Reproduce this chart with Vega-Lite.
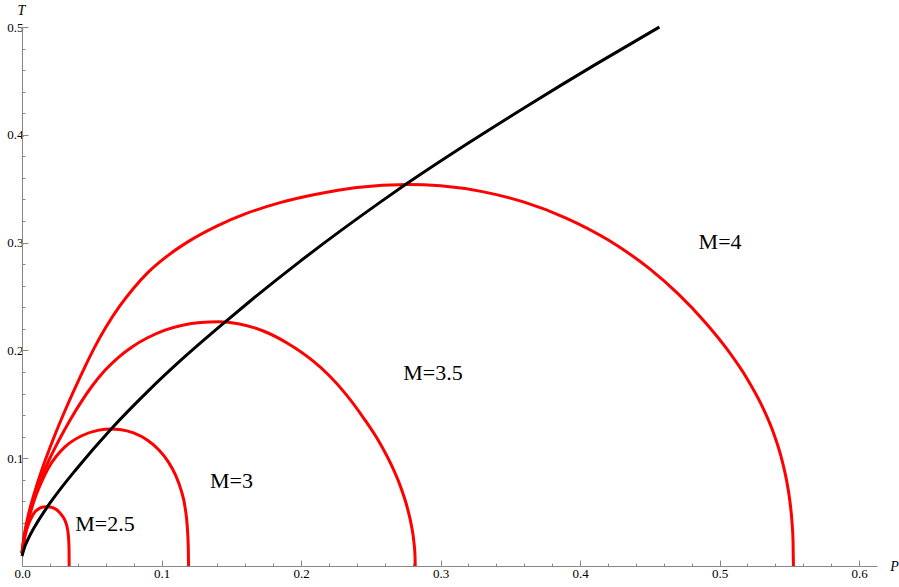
{
  "$schema": "https://vega.github.io/schema/vega-lite/v6.json",
  "width": 855,
  "height": 539,
  "autosize": {"type": "none"},
  "padding": {"left": 22, "top": 27, "right": 22, "bottom": 21},
  "background": "white",
  "config": {"view": {"stroke": null}},
  "datasets": {
    "red": [
      {"curve": "M=2.5", "P": 0, "T": 0.012},
      {"curve": "M=2.5", "P": 0.0015, "T": 0.0235},
      {"curve": "M=2.5", "P": 0.0033, "T": 0.0335},
      {"curve": "M=2.5", "P": 0.005, "T": 0.04},
      {"curve": "M=2.5", "P": 0.007, "T": 0.0455},
      {"curve": "M=2.5", "P": 0.0095, "T": 0.0505},
      {"curve": "M=2.5", "P": 0.0125, "T": 0.0535},
      {"curve": "M=2.5", "P": 0.0152, "T": 0.0547},
      {"curve": "M=2.5", "P": 0.018, "T": 0.055},
      {"curve": "M=2.5", "P": 0.021, "T": 0.0545},
      {"curve": "M=2.5", "P": 0.0249, "T": 0.0522},
      {"curve": "M=2.5", "P": 0.0275, "T": 0.0488},
      {"curve": "M=2.5", "P": 0.0296, "T": 0.0452},
      {"curve": "M=2.5", "P": 0.0312, "T": 0.041},
      {"curve": "M=2.5", "P": 0.0325, "T": 0.035},
      {"curve": "M=2.5", "P": 0.0333, "T": 0.027},
      {"curve": "M=2.5", "P": 0.0337, "T": 0.017},
      {"curve": "M=2.5", "P": 0.0338, "T": 0},
      {"curve": "M=3", "P": 0, "T": 0.012},
      {"curve": "M=3", "P": 0.0015, "T": 0.025},
      {"curve": "M=3", "P": 0.0045, "T": 0.042},
      {"curve": "M=3", "P": 0.0093, "T": 0.063},
      {"curve": "M=3", "P": 0.014, "T": 0.078},
      {"curve": "M=3", "P": 0.0189, "T": 0.091},
      {"curve": "M=3", "P": 0.025, "T": 0.1025},
      {"curve": "M=3", "P": 0.0308, "T": 0.1105},
      {"curve": "M=3", "P": 0.0428, "T": 0.1208},
      {"curve": "M=3", "P": 0.0543, "T": 0.1258},
      {"curve": "M=3", "P": 0.0643, "T": 0.1271},
      {"curve": "M=3", "P": 0.07, "T": 0.1266},
      {"curve": "M=3", "P": 0.08, "T": 0.1234},
      {"curve": "M=3", "P": 0.09, "T": 0.1166},
      {"curve": "M=3", "P": 0.098, "T": 0.1078},
      {"curve": "M=3", "P": 0.105, "T": 0.0964},
      {"curve": "M=3", "P": 0.11, "T": 0.0846},
      {"curve": "M=3", "P": 0.114, "T": 0.0706},
      {"curve": "M=3", "P": 0.117, "T": 0.0537},
      {"curve": "M=3", "P": 0.1185, "T": 0.036},
      {"curve": "M=3", "P": 0.1192, "T": 0.017},
      {"curve": "M=3", "P": 0.1194, "T": 0},
      {"curve": "M=3.5", "P": 0, "T": 0.012},
      {"curve": "M=3.5", "P": 0.0015, "T": 0.026},
      {"curve": "M=3.5", "P": 0.0045, "T": 0.0445},
      {"curve": "M=3.5", "P": 0.0093, "T": 0.066},
      {"curve": "M=3.5", "P": 0.0141, "T": 0.0825},
      {"curve": "M=3.5", "P": 0.02, "T": 0.1},
      {"curve": "M=3.5", "P": 0.026, "T": 0.1155},
      {"curve": "M=3.5", "P": 0.0345, "T": 0.1355},
      {"curve": "M=3.5", "P": 0.0428, "T": 0.153},
      {"curve": "M=3.5", "P": 0.05, "T": 0.1665},
      {"curve": "M=3.5", "P": 0.0595, "T": 0.1815},
      {"curve": "M=3.5", "P": 0.07, "T": 0.1945},
      {"curve": "M=3.5", "P": 0.0786, "T": 0.203},
      {"curve": "M=3.5", "P": 0.09, "T": 0.2117},
      {"curve": "M=3.5", "P": 0.1025, "T": 0.2188},
      {"curve": "M=3.5", "P": 0.115, "T": 0.2234},
      {"curve": "M=3.5", "P": 0.128, "T": 0.2259},
      {"curve": "M=3.5", "P": 0.141, "T": 0.2266},
      {"curve": "M=3.5", "P": 0.155, "T": 0.2248},
      {"curve": "M=3.5", "P": 0.173, "T": 0.218},
      {"curve": "M=3.5", "P": 0.19, "T": 0.2069},
      {"curve": "M=3.5", "P": 0.2088, "T": 0.19},
      {"curve": "M=3.5", "P": 0.22, "T": 0.1769},
      {"curve": "M=3.5", "P": 0.2327, "T": 0.1585},
      {"curve": "M=3.5", "P": 0.245, "T": 0.137},
      {"curve": "M=3.5", "P": 0.2566, "T": 0.1139},
      {"curve": "M=3.5", "P": 0.265, "T": 0.0931},
      {"curve": "M=3.5", "P": 0.271, "T": 0.0748},
      {"curve": "M=3.5", "P": 0.2765, "T": 0.0526},
      {"curve": "M=3.5", "P": 0.2793, "T": 0.0365},
      {"curve": "M=3.5", "P": 0.281, "T": 0.0215},
      {"curve": "M=3.5", "P": 0.2817, "T": 0.0101},
      {"curve": "M=3.5", "P": 0.2819, "T": 0},
      {"curve": "M=4", "P": 0, "T": 0.012},
      {"curve": "M=4", "P": 0.0015, "T": 0.0275},
      {"curve": "M=4", "P": 0.0045, "T": 0.047},
      {"curve": "M=4", "P": 0.0093, "T": 0.0695},
      {"curve": "M=4", "P": 0.015, "T": 0.092},
      {"curve": "M=4", "P": 0.0225, "T": 0.118},
      {"curve": "M=4", "P": 0.0308, "T": 0.144},
      {"curve": "M=4", "P": 0.038, "T": 0.165},
      {"curve": "M=4", "P": 0.0452, "T": 0.185},
      {"curve": "M=4", "P": 0.0525, "T": 0.204},
      {"curve": "M=4", "P": 0.06, "T": 0.2212},
      {"curve": "M=4", "P": 0.07, "T": 0.241},
      {"curve": "M=4", "P": 0.08, "T": 0.2577},
      {"curve": "M=4", "P": 0.09, "T": 0.2719},
      {"curve": "M=4", "P": 0.105, "T": 0.2884},
      {"curve": "M=4", "P": 0.12, "T": 0.3016},
      {"curve": "M=4", "P": 0.14, "T": 0.3156},
      {"curve": "M=4", "P": 0.16, "T": 0.3266},
      {"curve": "M=4", "P": 0.185, "T": 0.3371},
      {"curve": "M=4", "P": 0.21, "T": 0.3446},
      {"curve": "M=4", "P": 0.24, "T": 0.3512},
      {"curve": "M=4", "P": 0.2765, "T": 0.354},
      {"curve": "M=4", "P": 0.3, "T": 0.3527},
      {"curve": "M=4", "P": 0.33, "T": 0.3473},
      {"curve": "M=4", "P": 0.36, "T": 0.3375},
      {"curve": "M=4", "P": 0.39, "T": 0.3228},
      {"curve": "M=4", "P": 0.42, "T": 0.3026},
      {"curve": "M=4", "P": 0.45, "T": 0.2756},
      {"curve": "M=4", "P": 0.47, "T": 0.2529},
      {"curve": "M=4", "P": 0.49, "T": 0.2257},
      {"curve": "M=4", "P": 0.505, "T": 0.2018},
      {"curve": "M=4", "P": 0.52, "T": 0.1733},
      {"curve": "M=4", "P": 0.53, "T": 0.1497},
      {"curve": "M=4", "P": 0.538, "T": 0.1259},
      {"curve": "M=4", "P": 0.544, "T": 0.1021},
      {"curve": "M=4", "P": 0.548, "T": 0.0799},
      {"curve": "M=4", "P": 0.5505, "T": 0.0596},
      {"curve": "M=4", "P": 0.552, "T": 0.0401},
      {"curve": "M=4", "P": 0.5527, "T": 0.0237},
      {"curve": "M=4", "P": 0.553, "T": 0}
    ],
    "black": [
      {"P": 0, "T": 0.0093},
      {"P": 0.0022, "T": 0.0187},
      {"P": 0.005, "T": 0.0266},
      {"P": 0.0093, "T": 0.0369},
      {"P": 0.0177, "T": 0.054},
      {"P": 0.028, "T": 0.0722},
      {"P": 0.038, "T": 0.0884},
      {"P": 0.0631, "T": 0.126},
      {"P": 0.09, "T": 0.1618},
      {"P": 0.1133, "T": 0.1902},
      {"P": 0.1455, "T": 0.2263},
      {"P": 0.1634, "T": 0.2456},
      {"P": 0.1993, "T": 0.2826},
      {"P": 0.2566, "T": 0.3373},
      {"P": 0.2746, "T": 0.3536},
      {"P": 0.32, "T": 0.3924},
      {"P": 0.3642, "T": 0.4284},
      {"P": 0.41, "T": 0.4644},
      {"P": 0.4569, "T": 0.5}
    ],
    "labels": [
      {"label": "M=2.5", "P": 0.0595, "T": 0.0385},
      {"label": "M=3", "P": 0.1502, "T": 0.0793},
      {"label": "M=3.5", "P": 0.2946, "T": 0.179},
      {"label": "M=4", "P": 0.5004, "T": 0.3001}
    ]
  },
  "encoding": {
    "x": {
      "field": "P", "type": "quantitative",
      "scale": {"domain": [0, 0.6129], "nice": false, "zero": false},
      "axis": {
        "values": [0,0.02,0.04,0.06,0.08,0.1,0.12,0.14,0.16,0.18,0.2,0.22,0.24,0.26,0.28,0.3,0.32,0.34,0.36,0.38,0.4,0.42,0.44,0.46,0.48,0.5,0.52,0.54,0.56,0.58,0.6],
        "labelExpr": "abs(datum.value*10 - round(datum.value*10)) < 0.001 ? format(datum.value, '.1f') : ''",
        "tickSize": {"condition": {"test": "abs(datum.value*10 - round(datum.value*10)) < 0.001", "value": -6}, "value": -3},
        "grid": false,
        "domainColor": "#888888",
        "domainWidth": 1,
        "tickColor": "#888888",
        "tickWidth": 1,
        "labelFont": "Liberation Serif",
        "labelFontSize": 13,
        "labelColor": "#000000",
        "labelOverlap": false,
        "labelBound": false,
        "labelFlush": false,
        "labelPadding": 7,
        "title": "P",
        "titleFont": "Liberation Serif",
        "titleFontStyle": "italic",
        "titleFontWeight": "normal",
        "titleFontSize": 14,
        "titleColor": "#000000",
        "titleX": 872,
        "titleY": 0,
        "titleAlign": "center",
        "titleBaseline": "middle",
        "titleAngle": 0
      }
    },
    "y": {
      "field": "T", "type": "quantitative",
      "scale": {"domain": [0, 0.5], "nice": false, "zero": false},
      "axis": {
        "values": [0.02,0.04,0.06,0.08,0.1,0.12,0.14,0.16,0.18,0.2,0.22,0.24,0.26,0.28,0.3,0.32,0.34,0.36,0.38,0.4,0.42,0.44,0.46,0.48,0.5],
        "labelExpr": "abs(datum.value*10 - round(datum.value*10)) < 0.001 ? format(datum.value, '.1f') : ''",
        "tickSize": {"condition": {"test": "abs(datum.value*10 - round(datum.value*10)) < 0.001", "value": -6}, "value": -3},
        "grid": false,
        "domainColor": "#888888",
        "domainWidth": 1,
        "tickColor": "#888888",
        "tickWidth": 1,
        "labelFont": "Liberation Serif",
        "labelFontSize": 13,
        "labelColor": "#000000",
        "labelOverlap": false,
        "labelBound": false,
        "labelFlush": false,
        "labelPadding": 5,
        "title": "T",
        "titleFont": "Liberation Serif",
        "titleFontStyle": "italic",
        "titleFontWeight": "normal",
        "titleFontSize": 14,
        "titleColor": "#000000",
        "titleX": -1,
        "titleY": -17,
        "titleAlign": "center",
        "titleBaseline": "middle",
        "titleAngle": 0
      }
    }
  },
  "layer": [
    {
      "data": {"name": "red"},
      "mark": {"type": "line", "color": "#ff0000", "strokeWidth": 3, "interpolate": "monotone"},
      "encoding": {
        "detail": {"field": "curve", "type": "nominal"}
      }
    },
    {
      "data": {"name": "black"},
      "mark": {"type": "line", "color": "#000000", "strokeWidth": 3, "interpolate": "monotone"},
      "encoding": {}
    },
    {
      "data": {"name": "labels"},
      "mark": {"type": "text", "font": "Liberation Serif", "fontSize": 22, "align": "center", "baseline": "middle", "color": "#000000"},
      "encoding": {
        "text": {"field": "label"}
      }
    }
  ]
}
